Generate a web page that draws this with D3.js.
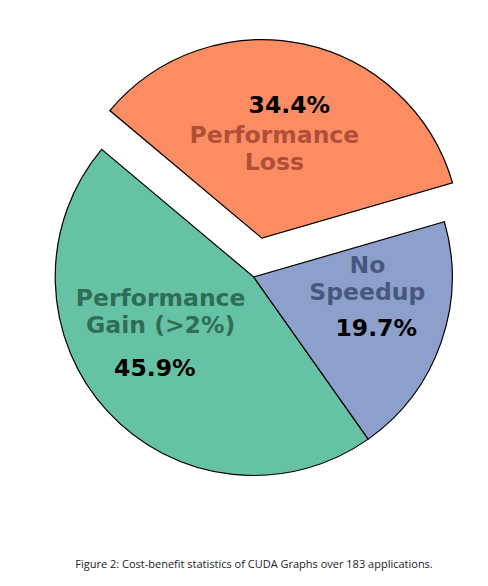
<!DOCTYPE html>
<html>
<head>
<meta charset="utf-8">
<script src="https://cdn.jsdelivr.net/npm/d3@7"></script>
<style>
  html, body { margin: 0; padding: 0; background: #fff; }
  svg { display: block; }
</style>
</head>
<body>
<svg id="chart" width="488" height="586"></svg>
<script>
(function () {
  'use strict';

  // chart values
  const categories = ['Performance Gain (>2%)', 'No Speedup', 'Performance Loss'];
  const labelLines = [['Performance', 'Gain (>2%)'], ['No', 'Speedup'], ['Performance', 'Loss']];
  const shares = [45.9, 19.7, 34.4];
  const caption = 'Figure 2: Cost-benefit statistics of CUDA Graphs over 183 applications.';

  // styling / layout
  const fills = ['#66c2a5', '#8da0cb', '#fc8d62'];
  const labelFills = ['#306d57', '#47577f', '#b04f38'];
  const explode = { 'Performance Loss': 0.2 };
  // small hand nudges so the text sits where the original placed it
  const nameNudge = {
    'Performance Gain (>2%)': [-20, -38],
    'No Speedup': [20, -37],
    'Performance Loss': [-8, 2],
  };
  const pctNudge = {
    'Performance Gain (>2%)': [-1, 0],
    'No Speedup': [-3, 7],
    'Performance Loss': [0, -3],
  };

  const CX = 253.7;
  const CY = 277;
  const R = 198.5;
  const FONT = 23.5;
  const LINE = 27;
  const deg = Math.PI / 180;

  const records = categories.map((name, i) => ({
    name, value: shares[i], lines: labelLines[i],
  }));

  const fill = d3.scaleOrdinal(categories, fills);
  const textFill = d3.scaleOrdinal(categories, labelFills);
  const fmt = d3.format('.1f');

  // matplotlib-style: start at 140 deg, counter-clockwise
  const pie = d3.pie()
    .sort(null)
    .value(d => d.value)
    .startAngle((90 - 140) * deg)
    .endAngle((90 - 140 - 360) * deg);

  const arc = d3.arc().innerRadius(0).outerRadius(R);
  const pctArc = d3.arc().innerRadius(R * 0.67).outerRadius(R * 0.67);
  const labelArc = d3.arc().innerRadius(R * 0.5).outerRadius(R * 0.5);

  const arcs = pie(records);

  const chart = d3.select('#chart');
  const g = chart.append('g').attr('transform', `translate(${CX},${CY})`);

  const slice = g.selectAll('g.slice').data(arcs)
    .enter().append('g')
    .classed('slice', true)
    .attr('transform', d => {
      const k = explode[d.data.name] || 0;
      const mid = (d.startAngle + d.endAngle) / 2;
      return `translate(${Math.sin(mid) * k * R},${-Math.cos(mid) * k * R})`;
    });

  slice.append('path')
    .attr('d', arc)
    .attr('fill', d => fill(d.data.name))
    .attr('stroke', '#000')
    .attr('stroke-width', 1.2)
    .attr('stroke-linejoin', 'miter');

  // category names
  slice.append('text')
    .attr('transform', d => {
      const [x, y] = labelArc.centroid(d);
      const [nx, ny] = nameNudge[d.data.name];
      return `translate(${x + nx},${y + ny})`;
    })
    .attr('text-anchor', 'middle')
    .attr('font-family', 'DejaVu Sans, sans-serif')
    .attr('font-weight', 'bold')
    .attr('font-size', FONT)
    .attr('fill', d => textFill(d.data.name))
    .selectAll('tspan').data(d => d.data.lines)
    .enter().append('tspan')
    .attr('x', 0)
    .attr('y', (t, i) => i * LINE)
    .text(t => t);

  // percentages
  slice.append('text')
    .attr('transform', d => {
      const [x, y] = pctArc.centroid(d);
      const [nx, ny] = pctNudge[d.data.name];
      return `translate(${x + nx},${y + ny})`;
    })
    .attr('dy', '0.36em')
    .attr('text-anchor', 'middle')
    .attr('font-family', 'DejaVu Sans, sans-serif')
    .attr('font-weight', 'bold')
    .attr('font-size', FONT)
    .attr('fill', '#000')
    .text(d => fmt(d.data.value) + '%');

  chart.append('text')
    .attr('x', 254)
    .attr('y', 568)
    .attr('text-anchor', 'middle')
    .attr('font-family', 'Open Sans, sans-serif')
    .attr('font-size', 11)
    .attr('fill', '#222')
    .text(caption);
}());
</script>
</body>
</html>
